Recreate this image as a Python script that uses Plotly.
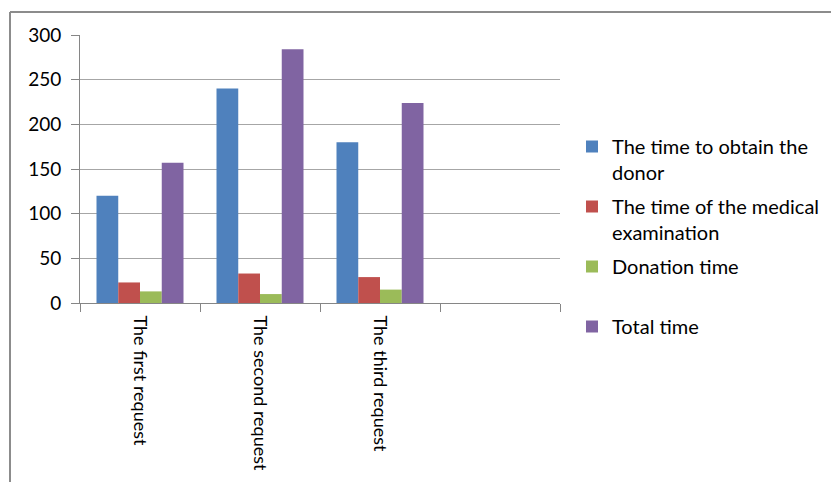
import plotly.graph_objects as go

categories = ["The first request", "The second request", "The third request", " "]
series_names = [
    "The time to obtain the<br>donor",
    "The time of the medical<br>examination",
    "Donation time<br> ",
    "Total time<br> ",
]
obtain_donor = [120, 240, 180, None]
medical_exam = [23, 33, 29, None]
donation = [13, 10, 15, None]
total = [157, 284, 224, None]
colors = ["#4F81BD", "#C0504D", "#9BBB59", "#8064A2"]

W, H = 831, 482
L, R, T, B = 80, 271, 35, 179
pw, ph = W - L - R, H - T - B

def px2x(px):
    return (px - L) / pw

def px2y(py):
    return (H - B - py) / ph

fig = go.Figure()
for name, vals, c in zip(series_names, [obtain_donor, medical_exam, donation, total], colors):
    fig.add_trace(go.Bar(x=categories, y=vals, name=name, marker_color=c,
                         marker_line_width=0, legendgroup=name))

font = "Lato, 'Open Sans', sans-serif"
fig.update_layout(
    width=W, height=H,
    margin=dict(l=L, r=R, t=T, b=B, pad=0, autoexpand=False),
    paper_bgcolor="white", plot_bgcolor="white",
    barmode="group", bargap=0.275, bargroupgap=0,
    font=dict(family=font, size=18, color="#000000"),
    showlegend=True,
    legend=dict(x=px2x(572), y=px2y(127), xanchor="left", yanchor="top",
                font=dict(family=font, size=20, color="#000000"),
                valign="top", tracegroupgap=5, itemwidth=30,
                bgcolor="rgba(0,0,0,0)"),
    xaxis=dict(type="category", range=[-0.5, 3.5], showgrid=False,
               showline=True, linecolor="#868686", linewidth=1,
               ticks="outside", ticklen=8, tickcolor="#868686", tickson="boundaries",
               ticklabelstandoff=8,
               tickangle=90, tickfont=dict(family=font, size=18)),
    yaxis=dict(range=[0, 300], dtick=50, showgrid=True, gridcolor="#a6a6a6", gridwidth=1,
               showline=True, linecolor="#868686", linewidth=1, zeroline=False,
               ticks="outside", ticklen=8, tickcolor="#868686",
               ticklabelstandoff=6,
               tickfont=dict(family=font, size=19)),
    shapes=[
        dict(type="line", xref="paper", yref="paper", x0=px2x(10), x1=px2x(W + 5),
             y0=px2y(12), y1=px2y(12), line=dict(color="#8c8c8c", width=2)),
        dict(type="line", xref="paper", yref="paper", x0=px2x(10), x1=px2x(10),
             y0=px2y(12), y1=px2y(H + 5), line=dict(color="#8c8c8c", width=2)),
    ],
)

fig.write_html("out.html")
